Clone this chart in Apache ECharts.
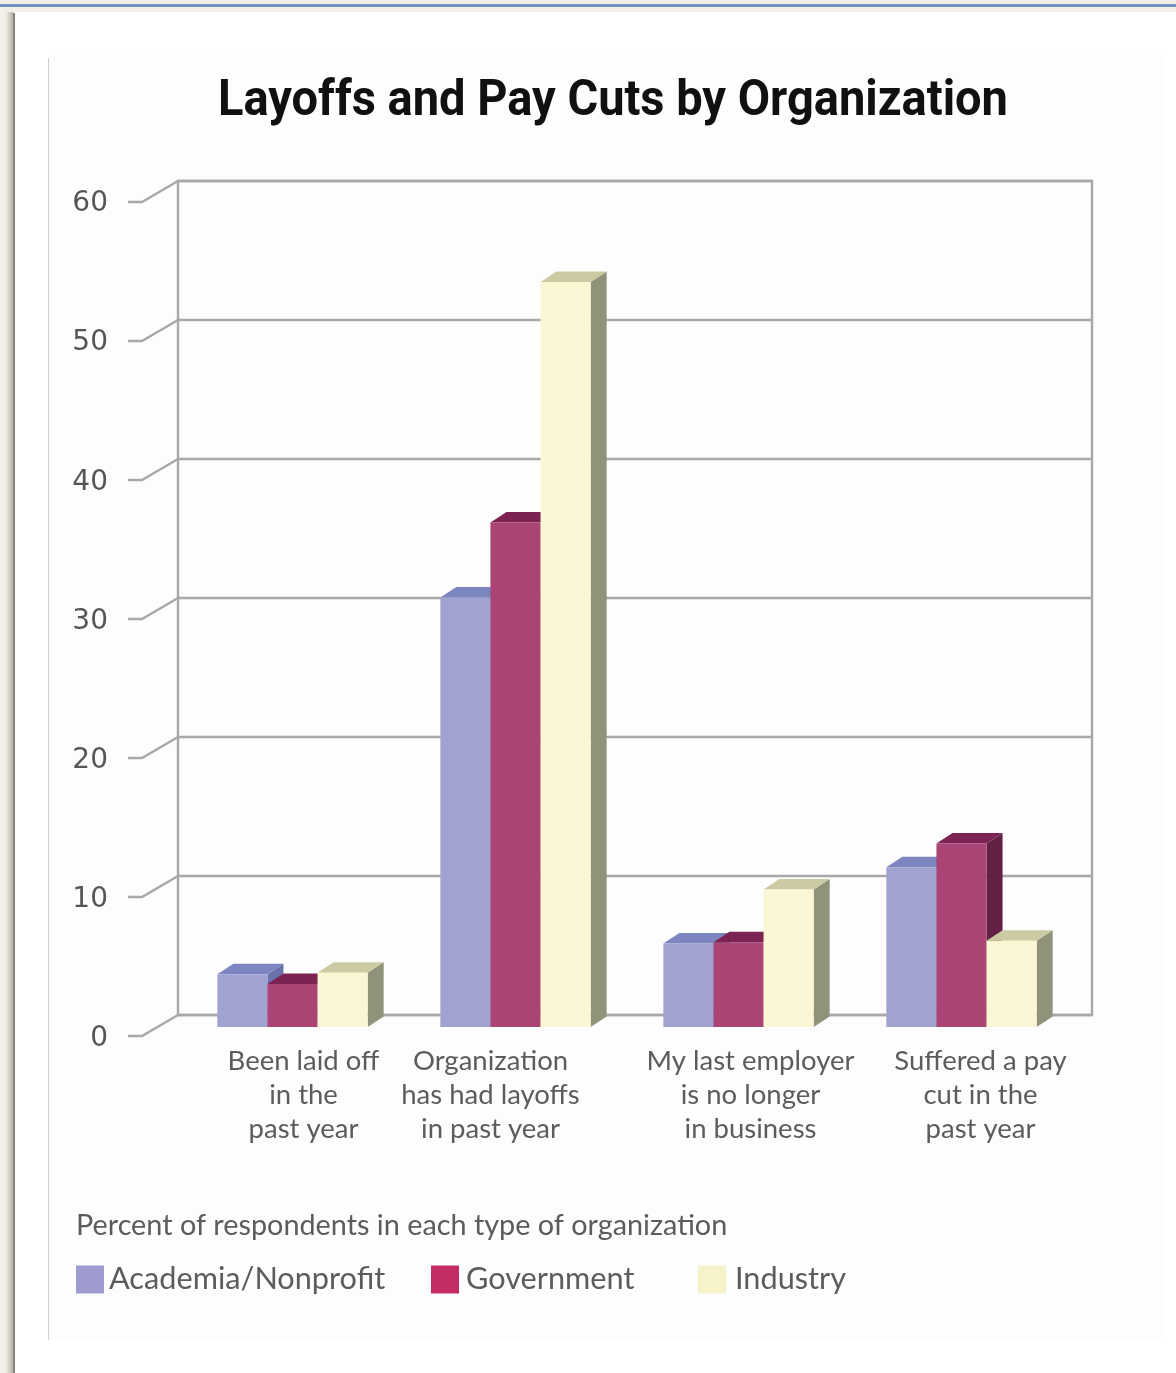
<!DOCTYPE html>
<html><head><meta charset="utf-8">
<style>html,body{margin:0;padding:0;background:#fff}#c{width:1176px;height:1373px;filter:blur(0.6px)}</style>
<script src="https://cdn.jsdelivr.net/npm/echarts@6/dist/echarts.min.js"></script>
</head><body><div id="c"></div>
<script>
const categories = ['Been laid off\nin the\npast year','Organization\nhas had layoffs\nin past year','My last employer\nis no longer\nin business','Suffered a pay\ncut in the\npast year'];
const academia = [3.8, 30.9, 6.0, 11.5];
const government = [3.1, 36.3, 6.1, 13.2];
const industry = [3.9, 53.6, 9.9, 6.2];
const yTicks = [0, 10, 20, 30, 40, 50, 60];
const titleText = 'Layoffs and Pay Cuts by Organization';
const noteText = 'Percent of respondents in each type of organization';
const seriesNames = ['Academia/Nonprofit', 'Government', 'Industry'];

const labelFont = 'Lato';
const labelColor = '#5c5c5c';
const wallColor = '#a8a8a8';
const depth = {x: 16, y: -10.5};
const barShare = 0.2247;
const faces = [
  {front:'#a0a3d1', top:'#7d85c0', side:'#6a72ae', key:'#9d9bcf'},
  {front:'#a94475', top:'#7c2353', side:'#632045', key:'#c42c66'},
  {front:'#fbf6d3', top:'#cbcaa3', side:'#91927a', key:'#f6f3c8'}
];
const labelNudge = [[22,0],[0,50],[24,0],[38,0]];

function bar3d(seriesIdx){
  const f = faces[seriesIdx];
  return function(params, api){
    const cat = api.value(0), v = api.value(1);
    const top = api.coord([cat, v]), base = api.coord([cat, 0]);
    const w = api.size([1,0])[0] * barShare;
    const x0 = top[0] + (seriesIdx - 1.5) * w, x1 = x0 + w;
    const dx = depth.x, dy = depth.y;
    return {type:'group', children:[
      {type:'polygon', shape:{points:[[x1,top[1]],[x1+dx,top[1]+dy],[x1+dx,base[1]+dy],[x1,base[1]]]}, style:{fill:f.side}},
      {type:'polygon', shape:{points:[[x0,top[1]],[x0+dx,top[1]+dy],[x1+dx,top[1]+dy],[x1,top[1]]]}, style:{fill:f.top}},
      {type:'rect', shape:{x:x0, y:top[1], width:w, height:base[1]-top[1]}, style:{fill:f.front}}
    ]};
  };
}
function wallEdge(params, api){
  const p = api.coord([0, api.value(1)]);
  const x = params.coordSys.x, y = p[1];
  return {type:'polyline', shape:{points:[[x,y],[x-36,y+21],[x-50,y+21]]},
    style:{stroke:wallColor, lineWidth:2.4, fill:null}};
}
const rich = {};
labelNudge.forEach((n,i)=>{ rich['c'+i] = {padding:[0,n[1],0,n[0]], fontFamily:labelFont, fontSize:27.5, color:labelColor, lineHeight:34}; });

const seriesData = [academia, government, industry];
const chart = echarts.init(document.getElementById('c'), null, {renderer:'canvas'});
chart.setOption({
  backgroundColor:'#ffffff',
  animation:false,
  graphic:[
    {type:'rect', z:-10, silent:true, shape:{x:0,y:0,width:1176,height:12}, style:{fill:'#f4f0e9'}},
    {type:'rect', z:-10, silent:true, shape:{x:0,y:4,width:1176,height:3}, style:{fill:'#7092bf'}},
    {type:'rect', z:-10, silent:true, shape:{x:0,y:12,width:13,height:1361},
      style:{fill:new echarts.graphic.LinearGradient(0,0,1,0,[{offset:0,color:'#f4f0e9'},{offset:0.45,color:'#f0ece5'},{offset:1,color:'#b4b2aa'}])}},
    {type:'rect', z:-10, silent:true, shape:{x:13,y:13,width:2,height:1360}, style:{fill:'#85847f'}},
    {type:'rect', z:-10, silent:true, shape:{x:48,y:50,width:1117,height:1290}, style:{fill:'#fdfdfd'}},
    {type:'rect', z:-10, silent:true, shape:{x:48,y:58,width:1,height:1282}, style:{fill:'#cfcfcf'}},
    {type:'text', z:10, silent:true, x:218, y:102, scaleX:0.94,
      style:{text:titleText, fontFamily:'Roboto', fontWeight:'bold', fontSize:50, fill:'#101010', textAlign:'left', textVerticalAlign:'middle'}}
  ],
  title:[
    {text:noteText, left:76, top:1211, padding:0, textStyle:{fontFamily:labelFont, fontWeight:'normal', fontSize:28.8, color:labelColor}}
  ],
  legend:seriesNames.map((n,i)=>({
    data:[{name:n, icon:'rect', itemStyle:{color:faces[i].key}}],
    left:[76,431,698][i], top:1264, padding:0, itemWidth:28, itemHeight:28,
    itemGap:0, selectedMode:false,
    textStyle:{fontFamily:labelFont, fontSize:30.7, color:labelColor, padding:[10,0,0,[0,2,4][i]]}
  })),
  grid:[
    {left:181, right:103, top:193, bottom:346},
    {left:178, right:84, top:181, bottom:358, show:true, borderColor:wallColor, borderWidth:2.4, backgroundColor:'transparent', z:0},
    {left:128, right:1030, top:204, bottom:334}
  ],
  xAxis:[
    {gridIndex:0, type:'category', data:categories, axisLine:{show:false}, axisTick:{show:false},
     axisLabel:{interval:0, margin:17, hideOverlap:false,
       formatter:(v,i)=>v.split('\n').map(l=>'{c'+i+'|'+l+'}').join('\n'), rich}},
    {gridIndex:1, type:'category', data:categories, show:false},
    {gridIndex:2, type:'category', data:categories, show:false}
  ],
  yAxis:[
    {gridIndex:0, type:'value', min:0, max:60, interval:10, show:false},
    {gridIndex:1, type:'value', min:0, max:60, interval:10, axisLine:{show:false}, axisTick:{show:false}, axisLabel:{show:false},
     splitLine:{lineStyle:{color:wallColor, width:2.4}}},
    {gridIndex:2, type:'value', min:0, max:60, interval:10, axisLine:{show:false}, axisTick:{show:false},
     axisLabel:{margin:20, fontFamily:'DejaVu Sans', fontSize:28, color:'#555555'}, splitLine:{show:false}}
  ],
  series:[
    {type:'custom', name:'wall', xAxisIndex:1, yAxisIndex:1, silent:true, clip:false, z:1,
     data:yTicks.map(t=>[0,t]), encode:{x:0,y:1}, renderItem:wallEdge},
    ...seriesNames.map((n,i)=>({
      type:'custom', name:n, xAxisIndex:0, yAxisIndex:0, clip:false, z:3+i,
      itemStyle:{color:faces[i].key}, encode:{x:0,y:1},
      data:seriesData[i].map((v,k)=>[k,v]), renderItem:bar3d(i)
    }))
  ]
});
</script></body></html>
